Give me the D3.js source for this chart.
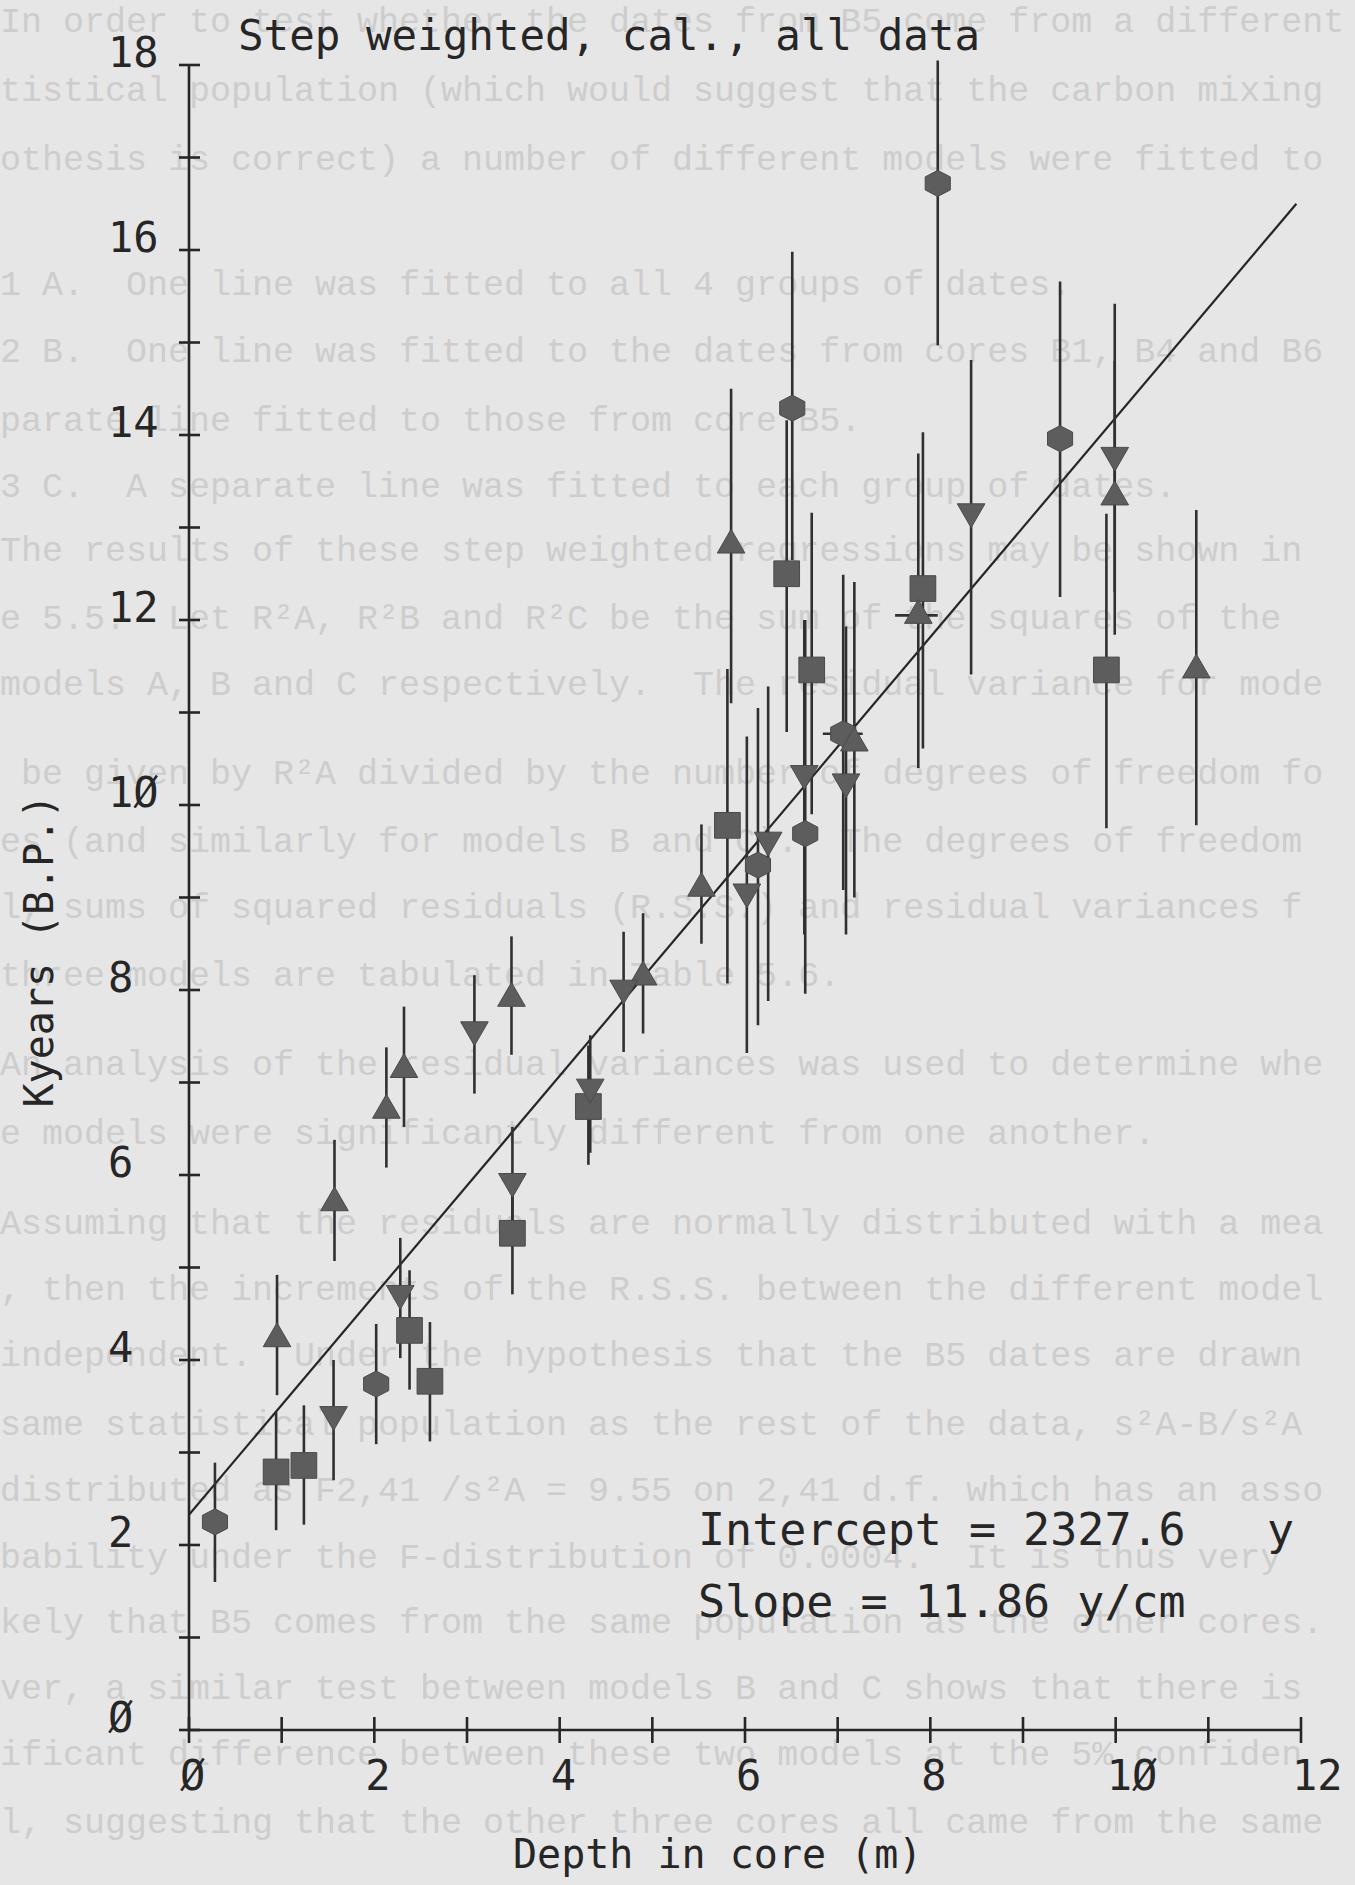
<!DOCTYPE html>
<html>
<head>
<meta charset="utf-8">
<script src="https://cdn.jsdelivr.net/npm/d3@7"></script>
<style>
body { margin: 0; background: #e6e6e6; }
svg { display: block; }
text { white-space: pre; }
</style>
</head>
<body>
<div id="chart"></div>
<script>
var hexagonPoints = [
	[0.28, 2.25, 1.60, 2.89], [2.02, 3.74, 3.09, 4.39], [6.14, 9.35, 7.62, 11.05],
	[6.51, 14.29, 12.65, 15.98], [6.65, 9.69, 7.96, 12.00], [7.06, 10.77, 9.08, 12.49],
	[8.08, 16.72, 14.97, 18.05], [9.40, 13.96, 12.25, 15.66]
];
var squarePoints = [
	[0.94, 2.79, 2.16, 3.44], [1.24, 2.86, 2.22, 3.51], [2.38, 4.32, 3.68, 4.97],
	[2.60, 3.77, 3.12, 4.41], [3.49, 5.37, 4.71, 6.00], [4.31, 6.74, 6.11, 7.40],
	[5.81, 9.78, 8.07, 11.47], [6.45, 12.50, 10.79, 14.16], [6.72, 11.46, 9.90, 13.16],
	[7.92, 12.34, 10.61, 14.03], [9.90, 11.46, 9.75, 13.15]
];
var triUpPoints = [
	[0.95, 4.23, 3.62, 4.92], [1.57, 5.70, 5.07, 6.38], [2.13, 6.70, 6.08, 7.38],
	[2.32, 7.14, 6.52, 7.82], [3.48, 7.91, 7.30, 8.58], [4.90, 8.14, 7.53, 8.83],
	[5.53, 9.10, 8.50, 9.79], [5.85, 12.81, 11.10, 14.50], [7.18, 10.67, 9.00, 12.41],
	[7.87, 12.05, 10.40, 13.80], [9.99, 13.33, 11.84, 14.80], [10.87, 11.46, 9.78, 13.19]
];
var triDownPoints = [
	[1.56, 3.41, 2.70, 4.00], [2.28, 4.72, 4.02, 5.32], [3.08, 7.57, 6.88, 8.16],
	[3.49, 5.93, 5.35, 6.52], [4.33, 6.95, 6.24, 7.51], [4.69, 8.02, 7.33, 8.63],
	[6.02, 9.06, 7.32, 10.74], [6.25, 9.62, 7.88, 11.28], [6.64, 10.34, 8.60, 12.00],
	[7.09, 10.25, 8.60, 11.93], [8.44, 13.17, 11.41, 14.81], [9.99, 13.78, 12.30, 15.42]
];
// the two little horizontal dashes : [depth from, depth to, age]
var depthBars = [[6.84, 7.27, 10.77], [7.62, 8.08, 12.05]];

// fitted line
var interceptYears = 2327.6;
var slopeYearsPerCm = 11.86;
var lineDepthEnd = 11.95;

var xMajor = [0, 2, 4, 6, 8, 10, 12];
var xMinor = [0, 1, 2, 3, 4, 5, 6, 7, 8, 9, 10, 11, 12];
var yMajor = [0, 2, 4, 6, 8, 10, 12, 14, 16, 18];
var yMinor = [0, 1, 2, 3, 4, 5, 6, 7, 8, 9, 10, 11, 12, 13, 14, 15, 16, 17, 18];

var titleText = "Step weighted, cal., all data";
var xLabel = "Depth in core (m)";
var yLabel = "Kyears (B.P.)";

// faint text from the page underneath
var pageLines = [
	"In order to test whether the dates from B5 come from a different",
	"tistical population (which would suggest that the carbon mixing",
	"othesis is correct) a number of different models were fitted to",
	"1 A.  One line was fitted to all 4 groups of dates.",
	"2 B.  One line was fitted to the dates from cores B1, B4 and B6",
	"parate line fitted to those from core B5.",
	"3 C.  A separate line was fitted to each group of dates.",
	"The results of these step weighted regressions may be shown in",
	"e 5.5.  Let R\u00b2A, R\u00b2B and R\u00b2C be the sum of the squares of the",
	"models A, B and C respectively.  The residual variance for mode",
	" be given by R\u00b2A divided by the number of degrees of freedom fo",
	"es (and similarly for models B and C).  The degrees of freedom",
	"l, sums of squared residuals (R.S.S.) and residual variances f",
	"three models are tabulated in Table 5.6.",
	"An analysis of the residual variances was used to determine whe",
	"e models were significantly different from one another.",
	"Assuming that the residuals are normally distributed with a mea",
	", then the increments of the R.S.S. between the different model",
	"independent.  Under the hypothesis that the B5 dates are drawn",
	"same statistical population as the rest of the data, s\u00b2A-B/s\u00b2A",
	"distributed as F2,41 /s\u00b2A = 9.55 on 2,41 d.f. which has an asso",
	"bability under the F-distribution of 0.0004.  It is thus very",
	"kely that B5 comes from the same population as the other cores.",
	"ver, a similar test between models B and C shows that there is",
	"ificant difference between these two models at the 5% confiden",
	"l, suggesting that the other three cores all came from the same"
];
var pageLineY = [32, 101, 170, 295, 362, 431, 497, 561, 629, 695, 784, 852, 918, 986,
				 1075, 1144, 1234, 1300, 1366, 1435, 1501, 1568, 1633, 1699, 1765, 1833];

var W = 1355, H = 1885;
var ink = "#262626";
var markFill = "#5d5d5d";
var plotFont = "'DejaVu Sans Mono', monospace";

var svg = d3.select("#chart")
	.append("svg")
	.attr("width", W)
	.attr("height", H);

svg.append("rect")
	.attr("width", W)
	.attr("height", H)
	.attr("fill", "#e6e6e6");

//the page text behind
svg.append("g")
	.selectAll("text")
	.data(pageLines)
	.enter()
	.append("text")
	.attr("x", 0)
	.attr("y", function (d, i) { return pageLineY[i]; })
	.attr("font-family", "'Liberation Mono', monospace")
	.attr("font-size", 35)
	.attr("fill", "#cdcdcd")
	.text(function (d) { return d; });

var x = d3.scaleLinear().domain([0, 12]).range([189, 1301]);
var y = d3.scaleLinear().domain([0, 18]).range([1730, 65]);

function zeroSlash(v) {
	return String(v).replace(/0/g, "\u00d8");
}

//axes
var axes = svg.append("g")
	.attr("stroke", ink)
	.attr("stroke-width", 2.6);

axes.append("line")
	.attr("x1", x(0)).attr("x2", x(0))
	.attr("y1", y(0)).attr("y2", y(18));
axes.append("line")
	.attr("x1", x(0)).attr("x2", x(12))
	.attr("y1", y(0)).attr("y2", y(0));

axes.selectAll(".ytick")
	.data(yMinor)
	.enter()
	.append("line")
	.attr("x1", x(0) - 10)
	.attr("x2", x(0) + 11)
	.attr("y1", function (d) { return y(d); })
	.attr("y2", function (d) { return y(d); });

axes.selectAll(".xtick")
	.data(xMinor)
	.enter()
	.append("line")
	.attr("x1", function (d) { return x(d); })
	.attr("x2", function (d) { return x(d); })
	.attr("y1", y(0) - 13)
	.attr("y2", y(0) + 13);

svg.append("g")
	.selectAll("text")
	.data(yMajor)
	.enter()
	.append("text")
	.attr("x", 108)
	.attr("y", function (d) { return y(d) + 2; })
	.attr("font-family", plotFont)
	.attr("font-size", 42)
	.attr("fill", ink)
	.text(zeroSlash);

svg.append("g")
	.selectAll("text")
	.data(xMajor)
	.enter()
	.append("text")
	.attr("x", function (d) { return x(d) - 9; })
	.attr("y", 1790)
	.attr("font-family", plotFont)
	.attr("font-size", 42)
	.attr("fill", ink)
	.text(zeroSlash);

//titles
svg.append("text")
	.attr("x", 238)
	.attr("y", 50)
	.attr("font-family", plotFont)
	.attr("font-size", 42.5)
	.attr("fill", ink)
	.text(titleText);

svg.append("text")
	.attr("x", 513)
	.attr("y", 1868)
	.attr("font-family", plotFont)
	.attr("font-size", 40)
	.attr("fill", ink)
	.text(xLabel);

svg.append("text")
	.attr("transform", "translate(53,951) rotate(-90)")
	.attr("text-anchor", "middle")
	.attr("font-family", plotFont)
	.attr("font-size", 40)
	.attr("fill", ink)
	.text(yLabel);

svg.append("text")
	.attr("x", 698)
	.attr("y", 1545)
	.attr("font-family", plotFont)
	.attr("font-size", 45)
	.attr("fill", ink)
	.text("Intercept = " + interceptYears.toFixed(1) + "   y");

svg.append("text")
	.attr("x", 698)
	.attr("y", 1617)
	.attr("font-family", plotFont)
	.attr("font-size", 45)
	.attr("fill", ink)
	.text("Slope = " + slopeYearsPerCm.toFixed(2) + " y/cm");

//fitted line, age in kyr, depth in m (1 m = 100 cm)
function fitAge(d) {
	return (interceptYears + slopeYearsPerCm * 100 * d) / 1000;
}
svg.append("line")
	.attr("x1", x(0))
	.attr("y1", y(fitAge(0)))
	.attr("x2", x(lineDepthEnd))
	.attr("y2", y(fitAge(lineDepthEnd)))
	.attr("stroke", ink)
	.attr("stroke-width", 2.2);

//error bars for every group
var allPoints = hexagonPoints.concat(squarePoints, triUpPoints, triDownPoints);
svg.append("g")
	.selectAll("line")
	.data(allPoints)
	.enter()
	.append("line")
	.attr("x1", function (d) { return x(d[0]); })
	.attr("x2", function (d) { return x(d[0]); })
	.attr("y1", function (d) { return y(d[2]); })
	.attr("y2", function (d) { return y(d[3]); })
	.attr("stroke", "#303030")
	.attr("stroke-width", 2.6);

svg.append("g")
	.selectAll("line")
	.data(depthBars)
	.enter()
	.append("line")
	.attr("x1", function (d) { return x(d[0]); })
	.attr("x2", function (d) { return x(d[1]); })
	.attr("y1", function (d) { return y(d[2]); })
	.attr("y2", function (d) { return y(d[2]); })
	.attr("stroke", "#303030")
	.attr("stroke-width", 2.6);

//markers
function hexPath(r) {
	var pts = d3.range(6).map(function (i) {
		var a = Math.PI / 3 * i - Math.PI / 2;
		return [r * Math.cos(a), r * Math.sin(a) * 0.9];
	});
	return "M" + pts.join("L") + "Z";
}

function drawMarks(data, pathStr, rot) {
	svg.append("g")
		.selectAll("path")
		.data(data)
		.enter()
		.append("path")
		.attr("d", pathStr)
		.attr("transform", function (d) {
			return "translate(" + x(d[0]) + "," + y(d[1]) + ") rotate(" + rot + ")";
		})
		.attr("fill", markFill)
		.attr("stroke", "#4a4a4a")
		.attr("stroke-width", 1);
}

drawMarks(hexagonPoints, hexPath(14.5), 0);
drawMarks(squarePoints, d3.symbol().type(d3.symbolSquare).size(660)(), 0);
drawMarks(triUpPoints, d3.symbol().type(d3.symbolTriangle).size(330)(), 0);
drawMarks(triDownPoints, d3.symbol().type(d3.symbolTriangle).size(330)(), 180);
</script>
</body>
</html>
